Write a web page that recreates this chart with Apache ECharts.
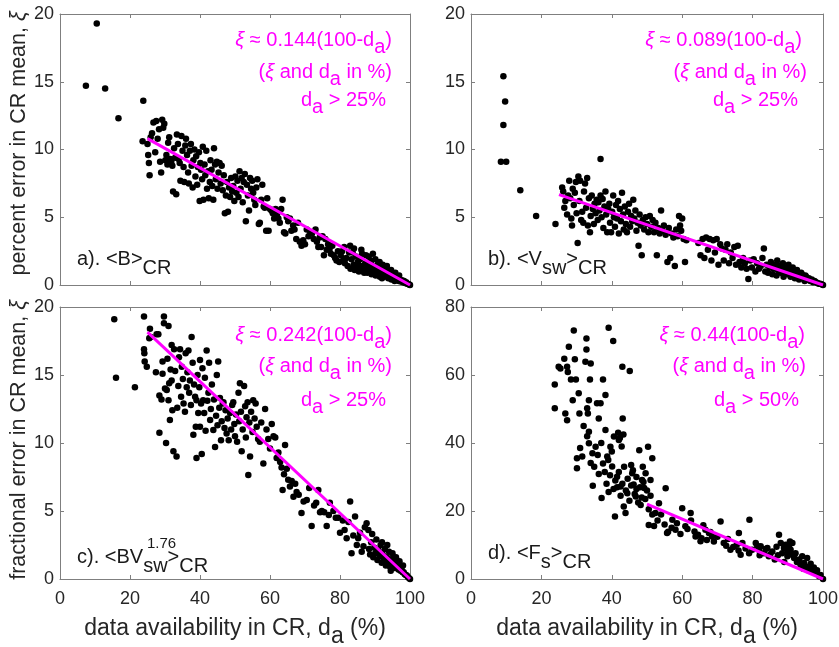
<!DOCTYPE html>
<html><head><meta charset="utf-8">
<script src="https://cdn.jsdelivr.net/npm/echarts@6.0.0/dist/echarts.min.js"></script>
<style>html,body{margin:0;padding:0;background:#fff}#c{width:839px;height:647px}</style>
</head><body><div id="c"></div>
<script>
// ---------------- data ----------------
const xTicks = [0, 20, 40, 60, 80, 100];
const yTicksSmall = [0, 5, 10, 15, 20];
const yTicksD = [0, 20, 40, 60, 80];

const dataA = [
[7.4,14.7],[10.5,19.3],[12.9,14.5],[16.7,12.3],[23.8,13.6],[23.6,10.6],
[25.0,10.4],[25.2,9.6],[25.4,9.0],[25.6,8.1],[25.9,10.9],[26.3,11.2],[26.7,12.0],[27.2,9.8],[27.5,12.1],[27.9,10.8],[28.3,11.5],[28.6,9.1],[28.9,8.3],[29.2,12.2],[29.5,11.6],[29.8,11.9],[30.1,9.2],[30.4,9.6],[30.7,8.9],[30.9,10.5],[31.2,10.9],[31.5,9.3],[31.8,9.1],[32.1,8.8],[32.3,6.9],[32.6,10.1],[32.9,9.4],[33.2,6.7],[33.4,11.1],[33.7,10.4],[33.9,9.3],[34.2,9.0],[34.4,7.7],[34.7,11.0],[35.0,9.9],[35.3,8.7],[35.5,7.6],[35.8,10.3],[36.0,10.8],[36.3,9.6],[36.6,8.3],[36.8,7.5],[37.1,9.9],[37.4,10.4],[37.6,8.8],[37.9,7.2],[38.1,9.2],[38.4,10.0],[38.7,8.0],[38.9,9.5],[39.2,7.4],[39.4,8.7],[39.7,9.8],[39.9,6.2],[40.1,9.0],[40.3,8.5],[40.6,7.8],[40.8,10.2],[41.0,6.3],[41.3,8.9],[41.5,8.1],[41.8,9.9],[42.0,7.1],[42.3,8.4],[42.5,6.4],[42.8,7.6],[43.0,9.2],[43.3,8.5],[43.5,7.3],[43.8,6.3],[44.0,10.1],[44.3,8.9],[44.5,7.8],[44.8,9.1],[45.0,7.1],[45.3,8.3],[45.6,9.0],[45.9,7.5],[46.2,8.8],[46.5,7.0],[46.8,8.1],[47.1,5.3],[47.4,6.6],[47.7,7.6],[48.0,5.4],[48.3,7.2],[48.6,6.5],[48.9,7.9],[49.2,6.9],[49.5,7.3],[49.8,6.2],[50.1,8.0],[50.4,6.8],[50.7,7.7],[51.0,6.5],[51.3,8.4],[51.6,7.1],[51.9,7.9],[52.2,6.1],[52.5,7.6],[52.8,8.2],[53.1,4.7],[53.4,7.4],[53.7,6.6],[54.0,5.5],[54.3,7.9],[54.6,7.1],[54.9,7.7],[55.2,6.8],[55.5,6.3],[55.8,5.9],[56.1,7.2],[56.4,7.8],[56.8,4.5],[57.1,4.6],[57.5,6.3],[57.8,7.4],[58.2,5.8],[58.5,5.7],[58.9,4.0],[59.2,6.4],[59.6,4.0],[60.0,5.6],[60.4,5.5],[60.8,5.3],[61.2,4.9],[61.6,5.6],[62.0,5.2],[62.4,4.9],[62.8,4.6],[63.2,5.6],[63.6,6.3],[64.0,3.9],[64.4,3.8],[64.8,5.0],[65.2,4.7],[65.7,4.9],[66.1,4.0],[66.6,4.4],[67.0,4.1],[67.5,3.4],[68.0,4.6],[68.5,3.2],[69.0,2.9],[69.5,3.3],[70.0,3.0],[70.5,4.1],[71.0,3.6],[71.5,3.9],[72.0,3.8],[72.5,3.4],[73.0,4.1],[73.4,3.2],[73.8,2.8],[74.2,3.5],[74.6,2.8],[75.0,3.6],[75.4,2.2],[75.8,3.4],[76.2,2.6],[76.6,3.0],[77.0,2.6],[77.4,2.3],[77.8,2.9],[78.2,2.2],[78.6,2.0],[79.0,1.8],[79.4,2.5],[79.8,1.7],[80.2,2.2],[80.6,2.5],[81.0,1.9],[81.4,1.6],[81.8,2.0],[82.2,1.4],[82.6,2.4],[83.0,1.2],[83.3,1.9],[83.6,2.4],[83.9,1.5],[84.2,1.1],[84.5,2.1],[84.8,1.3],[85.1,1.7],[85.4,1.0],[85.7,1.9],[86.0,1.4],[86.3,2.3],[86.6,1.1],[86.9,0.9],[87.2,1.6],[87.5,1.2],[87.8,0.9],[88.1,1.4],[88.4,1.0],[88.7,1.8],[89.0,0.8],[89.3,1.2],[89.6,0.9],[89.9,1.1],[90.2,0.7],[90.5,1.3],[90.8,0.8],[91.1,1.0],[91.4,0.6],[91.7,0.9],[92.0,0.5],[92.3,0.8],[92.6,0.6],[92.9,1.2],[93.2,0.7],[93.5,1.0],[93.8,0.5],[94.1,0.8],[94.4,0.6],[94.7,0.4],[95.0,0.7],[95.3,0.5],[95.6,0.3],[95.9,0.6],[96.2,0.4],[96.5,0.5],[96.8,0.3],[97.1,0.4],[97.4,0.25],[97.7,0.35],[98.0,0.2],[98.3,0.3],[98.6,0.15],[98.9,0.2],[99.2,0.1],[99.5,0.08],[99.8,0.03],[100,0],[88.2,2.1],[89.4,2.3],[90.1,1.9],[91.3,1.7],[92.2,1.5],[93.4,1.4],[94.6,1.1],[95.8,0.9],[96.9,0.7],[86.1,2.6],[87.4,2.2],[84.0,2.7],[82.9,2.9],[81.2,2.8],[88.8,1.6],[90.7,1.5],[91.9,1.2]
];

const dataB = [
[8.5,9.1],[10.0,9.1],[9.2,11.8],[9.7,13.55],[9.2,15.4],[14.0,7.0],[18.5,5.1],[24.0,4.5],[36.8,9.3],
[25.9,7.2],[26.2,6.9],[26.5,5.7],[26.8,6.2],[27.3,5.2],[27.6,6.6],[27.9,7.7],[28.2,6.4],[28.5,4.9],[28.7,4.4],[28.9,7.1],[29.2,5.9],[29.5,6.8],[29.8,7.6],[30.0,5.3],[30.3,3.1],[30.5,8.0],[30.8,6.2],[31.0,7.7],[31.3,4.8],[31.6,5.4],[31.9,4.6],[32.1,6.9],[32.4,7.5],[32.7,5.7],[33.0,7.9],[33.2,4.4],[33.5,6.4],[33.8,3.9],[34.0,5.1],[34.3,6.6],[34.6,5.6],[34.9,4.5],[35.1,6.0],[35.4,5.3],[35.7,6.3],[36.0,4.8],[36.2,6.1],[36.5,5.5],[36.8,6.6],[37.1,5.0],[37.4,6.35],[37.6,4.2],[37.9,5.8],[38.2,6.9],[38.4,5.2],[38.7,3.9],[39.0,5.6],[39.3,6.0],[39.5,4.6],[39.8,3.9],[40.1,5.4],[40.4,6.6],[40.6,5.0],[40.9,4.3],[41.2,5.9],[41.5,4.9],[41.8,6.2],[42.0,3.8],[42.3,5.6],[42.6,4.7],[42.9,6.8],[43.2,5.2],[43.4,4.1],[43.7,5.8],[44.0,4.5],[44.3,3.9],[44.6,5.4],[44.9,6.0],[45.2,4.3],[45.5,5.1],[45.8,4.7],[46.1,6.3],[46.4,4.9],[46.7,5.5],[47.0,4.0],[47.3,4.6],[47.6,2.9],[47.9,5.2],[48.2,4.4],[48.5,2.2],[48.8,4.8],[49.2,4.1],[49.6,5.0],[50.0,4.5],[50.4,3.9],[50.8,5.1],[51.2,4.3],[51.6,4.8],[52.0,3.9],[52.4,4.6],[52.8,2.2],[53.2,4.2],[53.6,3.8],[54.0,5.5],[54.4,4.0],[54.8,4.4],[55.3,3.7],[55.8,1.7],[56.2,4.2],[56.6,2.0],[57.0,3.8],[57.5,3.5],[57.9,1.4],[58.3,4.1],[58.7,3.6],[59.1,5.1],[59.4,4.4],[59.7,4.0],[60.0,4.9],[60.4,3.4],[60.8,1.7],[61.2,3.3],
[64.6,3.1],[65.2,2.2],[65.8,3.4],[66.3,2.0],[66.8,3.5],[67.3,2.6],[67.8,3.4],[68.3,1.8],[68.8,3.3],[69.3,2.4],[69.8,3.4],[70.3,1.5],[70.8,3.0],[71.3,2.7],[71.8,1.8],[72.3,2.6],[72.8,3.0],[73.3,1.6],[73.8,2.4],[74.3,2.0],[74.8,2.8],[75.3,1.5],[75.8,2.9],[76.3,1.7],[76.8,1.3],[77.3,2.0],[77.8,1.6],[78.3,1.2],[78.8,0.45],[79.3,1.8],[79.8,1.3],[80.3,1.9],[80.8,1.0],[81.3,1.6],[81.8,1.2],[82.3,1.4],[82.8,2.0],[83.2,2.7],[83.6,1.0],[84.0,1.5],[84.4,0.9],[84.8,1.3],[85.2,1.7],[85.6,0.8],[86.0,1.2],[86.4,1.5],[86.8,0.7],[87.2,1.1],[87.6,1.4],[88.0,0.9],[88.4,1.2],[88.8,0.6],[89.2,1.0],[89.6,1.3],[90.0,0.8],[90.4,1.1],[90.8,0.6],[91.2,0.9],[91.6,1.0],[92.0,0.5],[92.4,0.8],[92.8,0.7],[93.2,0.4],[93.6,0.6],[94.0,0.8],[94.4,0.5],[94.8,0.3],[95.2,0.6],[95.6,0.4],[96.0,0.5],[96.4,0.3],[96.8,0.4],[97.2,0.2],[97.6,0.3],[98.0,0.2],[98.4,0.15],[98.8,0.1],[99.2,0.1],[99.6,0.05],[100,0],[87.0,1.8],[88.6,1.6],[90.2,1.5],[91.4,1.3],[92.6,1.1],[93.8,0.9],[95.0,0.7]
];

const dataC = [
[15.5,19.1],[16.0,14.8],[21.4,14.1],[24.0,19.3],
[24.0,16.9],[24.1,16.6],[24.2,16.0],[24.8,15.6],[25.5,17.7],[25.7,18.4],[25.9,17.8],[27.4,15.2],[27.6,18.0],[28.1,18.0],[28.4,13.5],[28.4,10.75],[29.0,13.2],[29.3,16.0],[29.3,15.1],[29.7,19.3],[29.7,18.8],[30.0,14.0],[30.3,10.0],[30.5,13.9],[30.7,16.2],[31.0,18.6],[31.0,13.15],[31.2,14.4],[31.4,11.7],[31.6,15.4],[31.9,17.2],[31.9,14.6],[32.1,12.4],[32.4,9.4],[32.6,16.9],[32.9,15.3],[33.3,9.0],[33.5,12.6],[33.8,14.2],[34.0,16.3],[34.3,16.9],[34.6,13.4],[34.8,15.6],[35.1,14.7],[35.3,12.9],[35.7,12.3],[35.9,16.6],[36.2,14.1],[36.4,15.2],[36.7,16.8],[36.9,13.7],[37.1,14.6],[37.4,12.8],[37.6,17.8],[37.9,15.9],[38.1,10.6],[38.3,14.3],[38.6,13.4],[38.8,11.2],[39.0,13.15],[39.0,8.9],[39.3,15.0],[39.5,12.2],[39.8,14.1],[40.0,16.1],[40.0,11.2],[40.3,12.9],[40.5,9.2],[40.7,15.5],[40.9,13.15],[41.2,12.2],[41.4,14.8],[41.6,10.9],[41.9,16.8],[42.1,13.1],[42.4,13.7],[42.6,15.9],[42.9,11.7],[43.1,12.5],[43.4,14.3],[43.8,10.95],[44.0,13.2],[44.3,9.7],[44.6,12.0],[44.8,15.0],[45.0,11.3],[45.2,16.0],[45.5,12.6],[45.7,13.3],[46.0,10.2],[46.2,11.6],[46.5,12.9],[46.7,13.0],[47.0,11.1],[47.3,12.4],[47.6,10.7],[47.9,11.8],[48.2,10.2],[48.6,12.2],[48.9,11.0],[49.2,12.8],[49.5,13.0],[49.8,11.4],[50.0,10.5],[50.3,12.1],[50.6,10.1],[51.0,13.7],[51.2,11.6],[51.4,14.4],[51.7,12.3],[51.9,9.4],[52.2,11.0],[52.6,14.2],[52.9,12.7],[53.1,10.4],[53.3,11.9],[53.6,13.0],[53.8,7.65],[54.1,11.5],[54.3,9.0],[54.6,12.3],[55.0,10.8],[55.2,13.15],[55.6,11.8],[55.9,12.9],[56.2,11.2],[56.6,10.3],[57.1,10.1],[57.5,11.5],[58.1,8.5],[58.6,12.5],[59.0,11.0],[59.5,10.3],[60.0,9.6],[60.5,11.4],[61.0,10.5],[61.5,10.4],[61.9,8.9],[62.4,9.3],[62.9,8.6],[63.3,8.2],[63.6,6.55],[64.0,7.7],[64.3,9.85],[64.8,8.1],[65.2,7.3],[65.7,6.8],[66.2,7.2],[66.7,6.05],[67.2,7.0],[67.6,6.4],[68.2,6.2],[69.0,4.85],[69.6,5.7],[70.5,5.8],[71.2,6.7],[71.9,3.9],[72.6,5.4],[73.2,5.6],[73.8,6.55],[74.3,4.9],[74.8,5.0],[75.5,4.9],[76.2,3.9],[76.8,4.7],[77.1,5.6],[78.1,5.0],[78.8,4.5],[79.5,4.5],[80.0,3.4],[80.8,4.3],[81.3,3.6],[81.9,3.0],[82.4,4.2],[82.9,5.7],[83.3,1.9],[83.8,3.2],[84.3,4.6],[84.8,2.5],[85.2,3.0],[85.7,3.4],[86.2,2.0],[86.7,2.4],[87.1,3.8],[87.6,4.1],[88.1,3.6],[88.3,2.2],[88.6,1.8],[88.9,2.7],[89.2,3.3],[89.5,1.6],[89.8,2.3],[90.1,1.9],[90.4,2.9],[90.7,1.4],[91.0,2.1],[91.3,1.7],[91.6,2.5],[91.9,1.2],[92.2,1.8],[92.5,1.4],[92.8,2.2],[93.1,1.0],[93.4,1.6],[93.7,1.3],[94.0,2.0],[94.3,0.9],[94.6,1.4],[94.9,1.1],[95.2,1.6],[95.5,0.8],[95.8,1.2],[96.1,0.9],[96.4,1.1],[96.7,0.7],[97.0,0.9],[97.3,0.6],[97.6,0.7],[97.9,0.5],[98.2,0.5],[98.5,0.35],[98.8,0.3],[99.1,0.25],[99.4,0.15],[99.7,0.08],[100,0],[92.0,2.7],[93.5,2.5],[95.0,1.9],[96.0,1.6],[97.0,1.3],[98.0,1.0],[94.5,0.6]
];

const dataD = [
[23.8,57.2],[23.8,50.2],[24.9,62.4],[25.4,61.9],[26.5,64.8],[27.3,62.4],[27.5,60.9],[26.8,48.7],[27.3,46.7],[27.8,68.3],[28.4,58.7],[28.9,52.6],[29.2,73.1],[29.5,64.6],[29.8,58.7],[30.1,35.5],[30.1,32.6],[30.6,54.6],[30.8,48.7],[31.6,36.0],[32.5,63.9],[32.8,70.7],[32.8,67.5],[33.0,50.2],[33.2,48.7],[33.5,52.6],[33.5,43.3],[33.5,39.9],[33.8,58.7],[34.0,63.4],[34.0,34.1],[34.6,27.4],[35.4,38.9],[35.8,51.7],[36.3,47.2],[36.3,30.9],[36.8,51.7],[37.1,23.8],[37.5,58.7],[38.2,43.8],[38.2,54.1],[38.7,36.0],[39.1,73.9],[39.1,25.6],[39.6,38.9],[40.1,33.1],[40.4,70.0],[40.6,41.9],[40.9,18.4],[41.5,30.1],[42.0,40.9],[42.5,27.2],[43.0,62.4],[43.1,47.2],[43.4,21.3],[43.9,19.4],[44.4,25.2],[45.1,61.2],[45.8,31.1],[46.8,24.3],[47.8,37.9],[48.2,21.8],[48.6,29.1],[49.6,31.1],[50.3,38.9],[51.0,29.1],[51.5,35.5],[50.5,15.9],[52.4,19.4],[53.4,22.3],[55.3,26.7],[55.7,13.5],[57.2,17.4],[58.1,14.5],[60.0,20.8],[60.9,15.5],[62.4,19.4],[63.8,12.5],[65.2,11.1],[66.6,14.5],[67.6,13.5],[68.5,12.5],[70.9,16.9],[71.8,10.6],[73.7,8.6],[76.1,13.5],[76.6,7.1],[77.1,10.6],[79.1,17.4],[79.9,8.6],
[41.0,29.0],[41.5,27.0],[42.0,31.5],[42.5,24.5],[43.0,28.0],[43.5,33.0],[44.0,26.0],[44.5,29.5],[45.0,23.0],[45.5,27.5],[46.0,32.0],[46.5,25.0],[47.0,30.0],[47.5,22.5],[48.0,27.0],[48.5,24.0],[49.0,28.5],[49.5,23.5],[50.0,26.0],[50.5,20.5],[51.0,24.5],[51.5,19.0],[36.0,36.5],[37.0,40.0],[37.5,34.0],[38.0,31.5],[38.5,28.0],[39.0,35.0],[39.5,30.5],[40.0,37.5],[40.5,26.5],[35.0,33.0],[34.5,37.0],[33.0,42.0],[32.0,45.0],[31.0,38.5],[41.8,43.0],[42.3,41.5],[42.8,39.0],[43.3,42.5],[45.5,33.5],[46.2,27.8],[47.0,26.5],[48.8,33.0],[49.2,26.8],
[52.0,15.6],[53.0,17.2],[54.0,19.0],[55.0,16.0],[56.0,13.9],[57.0,15.1],[58.5,16.4],[59.5,13.2],[61.5,14.7],[62.5,17.2],[63.5,14.0],[64.5,13.0],[65.5,12.0],[66.0,15.8],[67.0,11.5],[68.0,13.8],[69.0,11.0],[70.0,12.4],[72.5,9.8],[73.0,11.8],[74.5,9.4],[75.5,10.1],[76.0,8.4],[78.0,9.0],[79.0,7.6],
[80.9,10.6],[81.8,8.6],[82.3,9.6],[83.2,7.6],[84.2,9.1],[84.6,6.7],[85.6,8.1],[86.3,5.7],[87.5,13.0],[88.0,10.6],[88.4,7.6],[88.9,9.1],[89.4,10.1],[89.9,6.7],[90.3,9.6],[90.8,8.6],[91.3,10.6],[91.8,6.2],[92.2,7.6],[93.2,5.7],[94.1,6.7],[94.6,4.7],[95.1,3.7],[95.5,6.2],[96.0,3.2],[97.0,2.2],[97.9,1.8],[98.9,0.8],[100,0],
[86.8,9.5],[87.2,7.0],[89.0,5.0],[90.0,8.0],[91.0,7.2],[92.6,5.0],[93.6,4.2],[94.4,3.0],[95.8,2.6],[96.5,4.5],[97.4,3.4],[98.3,2.6],[99.3,1.2],[90.6,11.0],[85.0,7.3],[83.7,8.8],[82.0,7.0],[81.3,9.8]
];

// fitted lines: xi = k (100 - da)
const fitA = [[25, 10.8], [100, 0]];
const fitB = [[25, 6.675], [100, 0]];
const fitC = [[25, 18.15], [100, 0]];
const fitD = [[50, 22.0], [100, 0]];

const fitCoef = ['0.144', '0.089', '0.242', '0.44'];
const fitCut = ['25', '25', '25', '50'];
const panelTags = ['a). <B>{s|CR}', 'b). <V{s|sw}>{s|CR}', 'c). <BV{s|sw}>{s|CR}', 'd). <F{s|s}>{s|CR}'];
const panelCSup = '1.76';
const yNameTop = 'percent error in CR mean, {i|ξ}';
const yNameBottom = 'fractional error in CR mean, {i|ξ}';
const xName = 'data availability in CR, d{s|a} (%)';

// ---------------- styling / layout ----------------
const FONT = "'Liberation Sans', Arial, Helvetica, sans-serif";
const AX = '#7f7f7f', TXT = '#262626', MAG = '#ff00ff';
const panels = [
  {grid:{left:60, top:14, width:350, height:271}, data:dataA, fit:fitA, yt:yTicksSmall, showX:false, yName:yNameTop, yPad:[0,0,0,12], ann:[18,18,24], annY:[26,58,86], tagDy:-26},
  {grid:{left:471, top:14, width:352, height:271}, data:dataB, fit:fitB, yt:yTicksSmall, showX:false, yName:'', yPad:[0,0,0,0], ann:[21,16,25], annY:[26,58,86], tagDy:-26},
  {grid:{left:60, top:307, width:350, height:272}, data:dataC, fit:fitC, yt:yTicksSmall, showX:true, yName:yNameBottom, yPad:[0,0,0,6], ann:[18,18,24], annY:[28,59,93], tagDy:-22},
  {grid:{left:471, top:307, width:352, height:272}, data:dataD, fit:fitD, yt:yTicksD, showX:true, yName:'', yPad:[0,0,0,0], ann:[18,17,24], annY:[28,59,93], tagDy:-26}
];

const XNAME_FS = 23, YNAME_FS = 21.5;
const richX = {
  s: {fontSize:XNAME_FS, fontFamily:FONT, color:TXT, padding:[16,0,0,0]}
};
const richY = {
  i: {fontSize:YNAME_FS, fontFamily:FONT, color:TXT, fontStyle:'italic'}
};

const grids = [], xAxes = [], yAxes = [], series = [], graphics = [];
panels.forEach((p, i) => {
  grids.push(Object.assign({outerBoundsMode:'none', containLabel:false}, p.grid));
  const line = {show:true, onZero:false, lineStyle:{color:AX, width:1}};
  const tick = {show:true, inside:true, length:4, lineStyle:{color:AX, width:1}};
  const xBase = {gridIndex:i, type:'value', min:xTicks[0], max:xTicks[xTicks.length-1], interval:xTicks[1]-xTicks[0],
    axisLine:line, axisTick:tick, splitLine:{show:false}};
  xAxes.push(Object.assign({}, xBase, {position:'bottom',
    axisLabel:{show:p.showX, color:TXT, fontSize:18, fontFamily:FONT, margin:11},
    name: p.showX ? xName : '', nameLocation:'middle', nameGap:30,
    nameTextStyle:{fontSize:XNAME_FS, fontFamily:FONT, color:TXT, rich:richX}}));
  xAxes.push(Object.assign({}, xBase, {position:'top', axisLabel:{show:false}}));
  const yBase = {gridIndex:i, type:'value', min:p.yt[0], max:p.yt[p.yt.length-1], interval:p.yt[1]-p.yt[0],
    axisLine:line, axisTick:tick, splitLine:{show:false}};
  yAxes.push(Object.assign({}, yBase, {position:'left',
    axisLabel:{show:true, color:TXT, fontSize:18, fontFamily:FONT, margin:6},
    name:p.yName, nameLocation:'middle', nameRotate:90, nameGap:29,
    nameTextStyle:{fontSize:YNAME_FS, fontFamily:FONT, color:TXT, rich:richY, padding:p.yPad}}));
  yAxes.push(Object.assign({}, yBase, {position:'right', axisLabel:{show:false}}));

  series.push({type:'scatter', xAxisIndex:2*i, yAxisIndex:2*i, data:p.data, symbol:'circle', symbolSize:6.5,
    itemStyle:{color:'#000000', opacity:1}, silent:true, z:2});
  series.push({type:'line', xAxisIndex:2*i, yAxisIndex:2*i, data:p.fit, symbol:'none',
    lineStyle:{color:MAG, width:3, opacity:1}, silent:true, z:3});

  const right = p.grid.left + p.grid.width;
  const top = p.grid.top;
  const annRich = {
    s:{fontSize:20, fontFamily:FONT, fill:MAG, padding:[14,0,0,0]},
    i:{fontSize:20, fontFamily:FONT, fill:MAG, fontStyle:'italic'}
  };
  const lines = ['{i|ξ} ≈ ' + fitCoef[i] + '(100-d{s|a})', '({i|ξ} and d{s|a} in %)', 'd{s|a} > ' + fitCut[i] + '%'];
  lines.forEach((t, k) => {
    graphics.push({type:'text', x:right - p.ann[k], y:top + p.annY[k], silent:true, z:10,
      style:{text:t, fill:MAG, fontSize:20, fontFamily:FONT, align:'right', verticalAlign:'middle', rich:annRich}});
  });
  const bottom = p.grid.top + p.grid.height;
  graphics.push({type:'text', x:p.grid.left + 17, y:bottom + p.tagDy, silent:true, z:10,
    style:{text:panelTags[i], fill:'#1a1a1a', fontSize:20, fontFamily:FONT, align:'left', verticalAlign:'middle',
      rich:{s:{fontSize:20, fontFamily:FONT, fill:'#1a1a1a', padding:[18,0,0,0]}}}});
  if (i === 2) {
    graphics.push({type:'text', x:147, y:bottom - 35, silent:true, z:10,
      style:{text:panelCSup, fill:'#1a1a1a', fontSize:15, fontFamily:FONT, align:'left', verticalAlign:'middle'}});
  }
});

const chart = echarts.init(document.getElementById('c'), null, {renderer:'canvas'});
chart.setOption({
  animation:false,
  backgroundColor:'#ffffff',
  grid:grids, xAxis:xAxes, yAxis:yAxes, series:series, graphic:graphics
});
</script></body></html>
